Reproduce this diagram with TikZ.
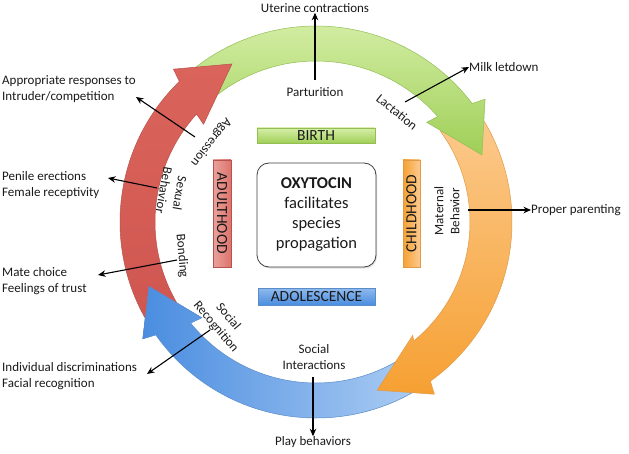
\documentclass[tikz,border=0pt]{standalone}
\usepackage{fontspec}
\setmainfont{Carlito}
\usetikzlibrary{arrows.meta,shadows}
\definecolor{grnL}{HTML}{D6EFA8}
\definecolor{grnD}{HTML}{9FCF57}
\definecolor{grnE}{HTML}{93BE55}
\definecolor{orgL}{HTML}{FCCB90}
\definecolor{orgD}{HTML}{F6A032}
\definecolor{orgE}{HTML}{E09A45}
\definecolor{bluL}{HTML}{ADCDF3}
\definecolor{bluD}{HTML}{4A8DE0}
\definecolor{bluE}{HTML}{5A8CC8}
\definecolor{redL}{HTML}{DA645C}
\definecolor{redD}{HTML}{CF5650}
\definecolor{redE}{HTML}{B8524C}
\definecolor{txt}{HTML}{1A1A1A}
\newcommand\ringarrow[5]{%
  \path[#5] (#1:196pt) arc[start angle=#1, end angle={#2-1.8}, radius=196pt]
    -- ({#2-3}:209pt) -- (#3:179pt) -- ({#2+3}:149pt) -- ({#2+1.9}:#4pt)
    arc[start angle={#2+1.9}, end angle=#1, radius=#4pt] -- cycle;}
\tikzset{
  lbl/.style={font=\fontsize{13}{16}\selectfont, inner sep=0pt, text=txt, align=center},
  side/.style={lbl, align=left, anchor=west},
  conn/.style={-{Stealth[length=7.5pt,width=6.5pt]}, line width=1.1pt, draw=black},
  greenarr/.style={top color=grnL, bottom color=grnD, draw=grnE, line width=0.5pt},
  orangearr/.style={top color=orgL, bottom color=orgD, draw=orgE, line width=0.5pt},
  bluearr/.style={left color=bluD, right color=bluL, draw=bluE, line width=0.5pt},
  redarr/.style={top color=redL, bottom color=redD, draw=redE, line width=0.5pt},
  bar/.style={inner sep=0pt, font=\fontsize{15.5}{15.5}\selectfont, text=txt,
    line width=0.5pt, drop shadow={opacity=0.3, shadow xshift=1pt, shadow yshift=-1.2pt}},
}
\begin{document}
\begin{tikzpicture}[x=1pt,y=1pt]
\useasboundingbox (0,0) rectangle (629,453);
\fill[white] (0,0) rectangle (629,453);
\begin{scope}[shift={(316,231)}]
  \ringarrow{303}{217}{201}{161}{bluearr}
  \ringarrow{36}{-52.5}{-70}{154}{orangearr}
  \ringarrow{133}{39}{22}{161}{greenarr}
  \ringarrow{214}{136}{118}{161}{redarr}
  \begin{scope}
    \clip (220:149pt) -- (201:179pt) -- (214:209pt) -- cycle;
    \ringarrow{303}{217}{201}{161}{bluearr}
  \end{scope}
\end{scope}

% phase bars
\node[bar, draw=grnE, top color=grnL, bottom color=grnD, minimum width=118pt, minimum height=15pt] (birth) at (316,317.5) {BIRTH};
\node[bar, draw=bluE, top color=bluL!70!bluD, bottom color=bluD, minimum width=117pt, minimum height=17pt] (adol) at (316.5,156.5) {ADOLESCENCE};
\node[bar, draw=redE, left color=redL!60!white, right color=redL!90!white, minimum width=107pt, minimum height=18pt, rotate=-90] (adult) at (222,239.5) {ADULTHOOD};
\node[bar, draw=orgE, left color=orgD, right color=orgL, minimum width=107pt, minimum height=17pt, rotate=90] (child) at (411.5,239.5) {CHILDHOOD};

% center box
\node[draw=black!75, line width=0.8pt, fill=white, rounded corners=12pt, minimum width=119pt, minimum height=104pt,
  align=center, text=txt, font=\fontsize{16.5}{20}\selectfont,
  drop shadow={opacity=0.25, shadow xshift=1pt, shadow yshift=-1.5pt}] (center) at (316.5,238)
  {\textbf{OXYTOCIN}\\facilitates\\species\\propagation};

% top
\node[lbl] (uterine) at (315,445) {Uterine contractions};
\node[lbl] (partur) at (315,361) {Parturition};
\coordinate (partS) at (315,373);
\draw[conn] (partS) -- (uterine.south);

\node[lbl, rotate=-39] (lact) at (397,341) {Lactation};
\node[side] (milk) at (469,386) {Milk letdown};
\coordinate (lactS) at (405,351);
\draw[conn] (lactS) -- (milk.west);

% right
\node[lbl, rotate=90] (matern) at (447,242) {Maternal\\Behavior};
\node[side] (proper) at (531,243) {Proper parenting};
\coordinate (maternS) at (468,243);
\draw[conn] (maternS) -- (proper.west);

% bottom
\node[lbl] (socint) at (314,96) {Social\\Interactions};
\node[lbl] (play) at (313,11) {Play behaviors};
\coordinate (socintS) at (313,76);
\draw[conn] (socintS) -- (play.north);

% left
\node[lbl, rotate=-128] (aggr) at (211,311) {Aggression};
\node[side] (approp) at (2,364) {Appropriate responses to\\Intruder/competition};
\coordinate (aggrS) at (195,316);
\coordinate (aggrE) at (136,356);
\draw[conn] (aggrS) -- (aggrE);

\node[lbl, rotate=-100] (sexual) at (172,261) {Sexual\\Behavior};
\node[side] (penile) at (2,268) {Penile erections\\Female receptivity};
\coordinate (sexS) at (157,265);
\coordinate (sexE) at (108,275);
\draw[conn] (sexS) -- (sexE);

\node[lbl, rotate=-85] (bond) at (182,197) {Bonding};
\node[side] (mate) at (2,172) {Mate choice\\Feelings of trust};
\coordinate (bondS) at (177,193);
\coordinate (bondE) at (98,178);
\draw[conn] (bondS) -- (bondE);

\node[lbl, rotate=-50] (socrec) at (222,131) {Social\\Recognition};
\node[side] (indiv) at (2,77) {Individual discriminations\\Facial recognition};
\coordinate (socrecS) at (210,123);
\coordinate (socrecE) at (147,79);
\draw[conn] (socrecS) -- (socrecE);
\end{tikzpicture}
\end{document}
